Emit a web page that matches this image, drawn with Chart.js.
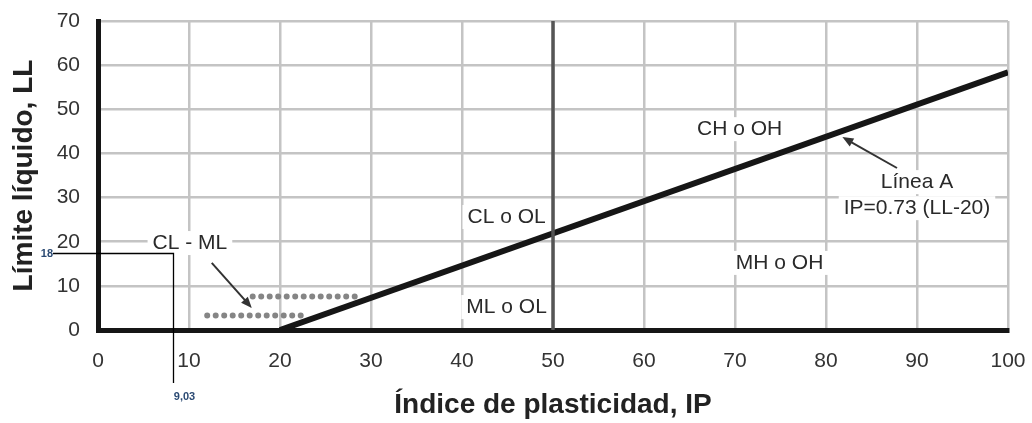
<!DOCTYPE html>
<html>
<head>
<meta charset="utf-8">
<script src="https://cdn.jsdelivr.net/npm/chart.js@4/dist/chart.umd.min.js"></script>
<style>
  html, body { margin: 0; padding: 0; background: #fff; }
  #wrap { width: 1032px; height: 423px; }
</style>
</head>
<body>
<div id="wrap"><canvas id="chart" width="1032" height="423"></canvas></div>
<script>
// axis ranges / ticks
var xTicks = [0, 10, 20, 30, 40, 50, 60, 70, 80, 90, 100];
var yTicks = [0, 10, 20, 30, 40, 50, 60, 70];

// Linea A: IP = 0.73 (LL - 20)
var lineAX = [20, 100];
var lineAY = [0, 58.4];

// vertical split at 50
var splitX = [50, 50];
var splitY = [0, 70];

// CL - ML dotted band
var dotsLowX = [12, 23];
var dotsLowY = [3.3, 3.3];
var dotsHighX = [17, 28.6];
var dotsHighY = [7.6, 7.6];

// zone labels (data coords)
var zoneText = ['CH o OH', 'Línea A', 'IP=0.73 (LL-20)', 'MH o OH', 'CL o OL', 'ML o OL', 'CL - ML'];
var zoneX = [70.5, 90, 90, 74.9, 44.9, 44.9, 10.1];
var zoneY = [45.5, 33.5, 27.6, 15.2, 25.6, 5.2, 19.7];

// arrows: tail -> tip
var arrowFromX = [87.8, 12.5];
var arrowFromY = [36.7, 15.2];
var arrowToX = [81.8, 16.9];
var arrowToY = [43.7, 5.0];

// reading marker
var markX = 8.24;
var markY = 17.5;
var markXText = '9,03';
var markYText = '18';

function pts(xs, ys) {
    return xs.map(function (x, i) { return { x: x, y: ys[i] }; });
}

var FONT = '"Liberation Sans", Arial, Helvetica, sans-serif';

var annotations = {
    id: 'annotations',
    beforeDatasetsDraw: function (chart) {
        var ctx = chart.ctx, xs = chart.scales.x, ys = chart.scales.y;
        ctx.save();
        ctx.font = '21px ' + FONT;
        ctx.fillStyle = '#fff';
        zoneText.forEach(function (t, i) {
            var w = ctx.measureText(t).width;
            var px = xs.getPixelForValue(zoneX[i]);
            var py = ys.getPixelForValue(zoneY[i]);
            ctx.fillRect(px - w / 2 - 5, py - 12, w + 10, 24);
        });
        ctx.restore();
    },
    afterDatasetsDraw: function (chart) {
        var ctx = chart.ctx, xs = chart.scales.x, ys = chart.scales.y;
        ctx.save();
        // labels
        ctx.font = '21px ' + FONT;
        ctx.fillStyle = '#2a2a2a';
        ctx.textAlign = 'center';
        ctx.textBaseline = 'middle';
        zoneText.forEach(function (t, i) {
            ctx.fillText(t, xs.getPixelForValue(zoneX[i]), ys.getPixelForValue(zoneY[i]));
        });
        // arrows
        ctx.strokeStyle = '#333';
        ctx.fillStyle = '#333';
        ctx.lineWidth = 2;
        for (var i = 0; i < arrowFromX.length; i++) {
            var x1 = xs.getPixelForValue(arrowFromX[i]), y1 = ys.getPixelForValue(arrowFromY[i]);
            var x2 = xs.getPixelForValue(arrowToX[i]), y2 = ys.getPixelForValue(arrowToY[i]);
            var a = Math.atan2(y2 - y1, x2 - x1);
            ctx.beginPath();
            ctx.moveTo(x1, y1);
            ctx.lineTo(x2 - 8 * Math.cos(a), y2 - 8 * Math.sin(a));
            ctx.stroke();
            ctx.beginPath();
            ctx.moveTo(x2, y2);
            ctx.lineTo(x2 - 11 * Math.cos(a) + 4.5 * Math.sin(a), y2 - 11 * Math.sin(a) - 4.5 * Math.cos(a));
            ctx.lineTo(x2 - 11 * Math.cos(a) - 4.5 * Math.sin(a), y2 - 11 * Math.sin(a) + 4.5 * Math.cos(a));
            ctx.closePath();
            ctx.fill();
        }
        // reading marker lines
        var mx = Math.round(xs.getPixelForValue(markX)) + 0.5;
        var my = Math.round(ys.getPixelForValue(markY)) + 0.5;
        ctx.strokeStyle = '#000';
        ctx.lineWidth = 1.3;
        ctx.beginPath();
        ctx.moveTo(53, my);
        ctx.lineTo(mx, my);
        ctx.lineTo(mx, 383);
        ctx.stroke();
        ctx.font = 'bold 11px ' + FONT;
        ctx.fillStyle = '#2b4a73';
        ctx.textAlign = 'right';
        ctx.fillText(markYText, 53, my);
        ctx.textAlign = 'center';
        ctx.fillText(markXText, mx + 11, 397);
        ctx.restore();
    }
};

new Chart(document.getElementById('chart'), {
    type: 'scatter',
    data: {
        datasets: [
            {
                data: pts(dotsLowX, dotsLowY),
                showLine: true, pointRadius: 0,
                borderColor: '#858585', borderWidth: 6,
                borderDash: [0, 8.5], borderCapStyle: 'round'
            },
            {
                data: pts(dotsHighX, dotsHighY),
                showLine: true, pointRadius: 0,
                borderColor: '#858585', borderWidth: 6,
                borderDash: [0, 8.5], borderCapStyle: 'round'
            },
            {
                data: pts(splitX, splitY),
                showLine: true, pointRadius: 0,
                borderColor: '#555', borderWidth: 3.5
            },
            {
                data: pts(lineAX, lineAY),
                showLine: true, pointRadius: 0,
                borderColor: '#161616', borderWidth: 6
            }
        ]
    },
    options: {
        responsive: false,
        animation: false,
        layout: { padding: { left: 0, right: 24, top: 21, bottom: 0 } },
        plugins: { legend: { display: false }, tooltip: { enabled: false } },
        scales: {
            x: {
                type: 'linear', min: 0, max: 100,
                afterBuildTicks: function (s) { s.ticks = xTicks.map(function (v) { return { value: v }; }); },
                ticks: { color: '#333', font: { size: 21, family: FONT }, padding: 19, maxRotation: 0 },
                grid: { color: '#c4c4c4', lineWidth: 2.5, drawTicks: false },
                border: { color: '#161616', width: 5 },
                title: {
                    display: true, text: 'Índice de plasticidad, IP', color: '#222',
                    font: { size: 28, weight: 'bold', family: FONT }, padding: { top: 0, bottom: 1 }
                },
                afterFit: function (s) {
                    s.height = 93;
                    s.paddingLeft = 0;
                    s.paddingRight = 0;
                }
            },
            y: {
                type: 'linear', min: 0, max: 70,
                afterBuildTicks: function (s) { s.ticks = yTicks.map(function (v) { return { value: v }; }); },
                ticks: { color: '#333', font: { size: 21, family: FONT }, padding: 18 },
                grid: { color: '#c4c4c4', lineWidth: 2.5, drawTicks: false },
                border: { color: '#161616', width: 5 },
                title: {
                    display: true, text: 'Límite líquido, LL', color: '#222',
                    font: { size: 28, weight: 'bold', family: FONT }, padding: { top: 7, bottom: 0 }
                },
                afterFit: function (s) {
                    s.width = 98;
                    s.paddingTop = 0;
                    s.paddingBottom = 0;
                }
            }
        }
    },
    plugins: [annotations]
});
</script>
</body>
</html>
